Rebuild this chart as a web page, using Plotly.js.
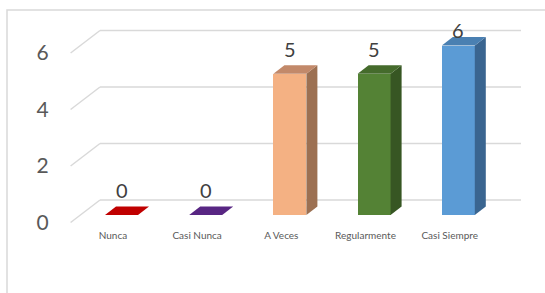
<!DOCTYPE html>
<html>
<head>
<meta charset="utf-8">
<script src="https://cdn.plot.ly/plotly-3.0.1.min.js"></script>
<style>html,body{margin:0;padding:0;background:#fff;}#chart{width:545px;height:293px;}</style>
</head>
<body>
<div id="chart"></div>
<script>
// ---- data ----
const categories = ['Nunca', 'Casi Nunca', 'A Veces', 'Regularmente', 'Casi Siempre'];
const values = [0, 0, 5, 5, 6];
const frontColors = ['#C00000', '#7030A0', '#F4B183', '#548235', '#5B9BD5'];
const topColors = ['#C00000', '#582683', '#C2896A', '#456B2C', '#4A80B2'];
const sideColors = ['#8E0000', '#4A1F6B', '#9C7052', '#375623', '#3A6590'];
const yTicks = [0, 2, 4, 6];

// ---- layout geometry (pixels) ----
const W = 545, H = 293;
const L = 100, R = 521, T = 12, B = 228;
const S = 28.25;          // px per value unit
const catPx = 84.2;       // px per category
const cat0Px = 121.5;     // px of first bar centre
const frontOrigin = 222.5, barOrigin = 215, backOrigin = 200;
const barW = 33 / catPx, dx = 11 / catPx, dy = 8.5 / S;
const backShift = (frontOrigin - backOrigin) / S;

const xRange = [(L - cat0Px) / catPx, (R - cat0Px) / catPx];
const yr = o => [(o - B) / S, (o - T) / S];

const xs = categories.map((c, i) => i);
const traces = [];
traces.push({
  type: 'bar', x: xs, y: values, width: barW, xaxis: 'x', yaxis: 'y2',
  marker: {color: frontColors, line: {width: 0}}, hoverinfo: 'skip', showlegend: false
});
values.forEach((v, i) => {
  const xl = i - barW / 2, xr = i + barW / 2;
  traces.push({
    type: 'scatter', mode: 'lines', xaxis: 'x', yaxis: 'y2', showlegend: false, hoverinfo: 'skip',
    x: [xr, xr + dx, xr + dx, xr, xr], y: [0, dy, v + dy, v, 0],
    fill: 'toself', fillcolor: sideColors[i], line: {width: 0}
  });
  traces.push({
    type: 'scatter', mode: 'lines', xaxis: 'x', yaxis: 'y2', showlegend: false, hoverinfo: 'skip',
    x: [xl, xr, xr + dx, xl + dx, xl], y: [v, v, v + dy, v + dy, v],
    fill: 'toself', fillcolor: topColors[i], line: {width: 0}
  });
});

const annotations = values.map((v, i) => ({
  xref: 'x', yref: 'y2', x: i, y: v, text: String(v), showarrow: false,
  yanchor: 'middle', xanchor: 'center',
  yshift: Math.min(25, (barOrigin - S * v) - (T + 17.5)),
  font: {family: 'Lato, Carlito, sans-serif', size: 20, color: '#404040'}
}));

const shapes = [];
yTicks.forEach(v => {
  // side-wall stub
  shapes.push({
    type: 'line', xref: 'paper', yref: 'y', layer: 'below',
    x0: (70.6 - L) / (R - L), y0: v, x1: 0, y1: v + backShift,
    line: {color: '#d9d9d9', width: 1.5}
  });
  // back-wall gridline
  shapes.push({
    type: 'line', xref: 'paper', yref: 'y', layer: 'below',
    x0: 0, y0: v + backShift, x1: 1, y1: v + backShift,
    line: {color: '#d9d9d9', width: 1.5}
  });
});
shapes.push({
  type: 'rect', xref: 'paper', yref: 'paper',
  x0: (7 - L) / (R - L), x1: (600 - L) / (R - L),
  y0: (B - 400) / (B - T), y1: (B - 10) / (B - T),
  line: {color: '#d9d9d9', width: 1.5}, fillcolor: 'rgba(0,0,0,0)'
});

const layout = {
  width: W, height: H,
  margin: {l: L, r: W - R, t: T, b: H - B, pad: 0},
  paper_bgcolor: '#ffffff', plot_bgcolor: 'rgba(0,0,0,0)',
  showlegend: false, bargap: 0,
  xaxis: {
    range: xRange, showgrid: false, zeroline: false, showline: false, ticks: '',
    tickvals: xs.map(i => i - 8.6 / catPx), ticktext: categories,
    tickfont: {family: 'Lato, Carlito, sans-serif', size: 10, color: '#595959'}
  },
  yaxis: {
    range: yr(frontOrigin), tickvals: yTicks, showgrid: false, zeroline: false, showline: false,
    ticks: 'outside', ticklen: 46, tickcolor: 'rgba(0,0,0,0)',
    tickfont: {family: 'Lato, Carlito, sans-serif', size: 21, color: '#595959'}
  },
  yaxis2: {
    range: yr(barOrigin), overlaying: 'y', anchor: 'x', showgrid: false, zeroline: false,
    showline: false, showticklabels: false, ticks: ''
  },
  annotations: annotations,
  shapes: shapes
};

Plotly.newPlot('chart', traces, layout, {staticPlot: true, displayModeBar: false});
</script>
</body>
</html>
